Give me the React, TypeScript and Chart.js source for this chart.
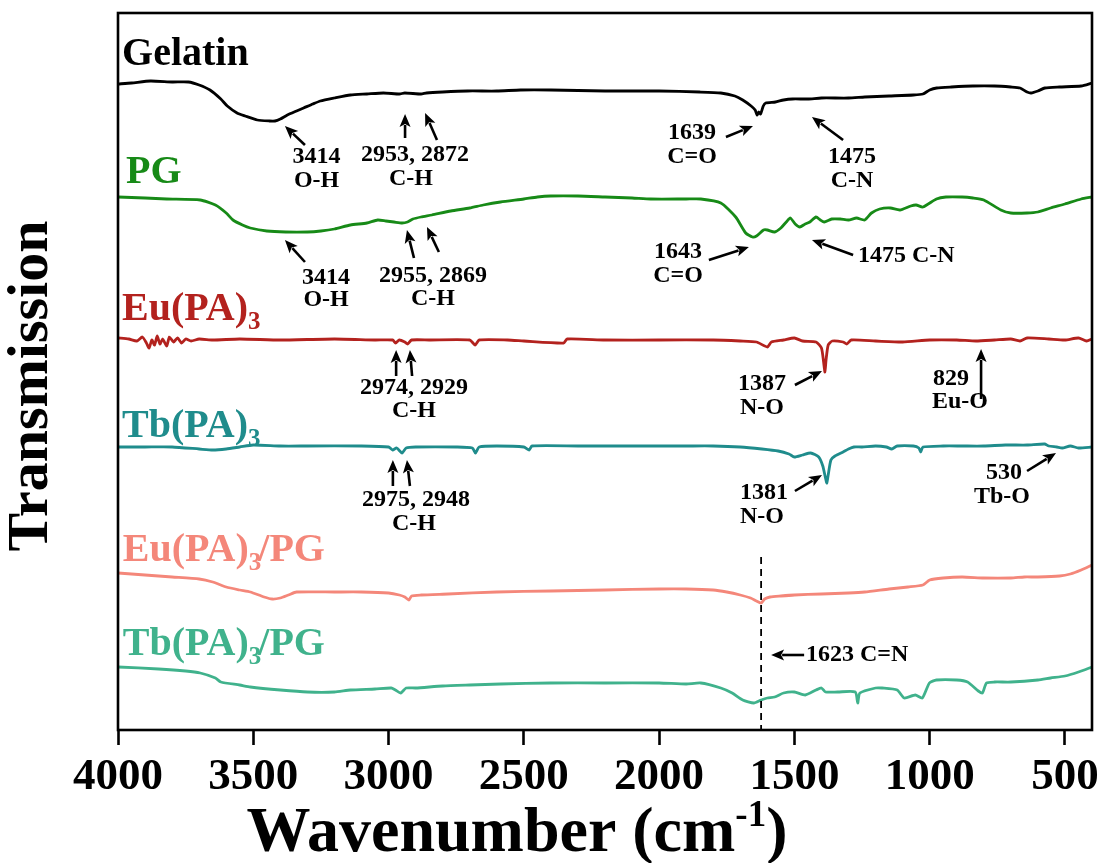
import React, { useEffect, useRef } from "react";
import { Chart, registerables } from "chart.js";
Chart.register(...registerables);

// ---- axis ----
const xTickValues = [4000, 3500, 3000, 2500, 2000, 1500, 1000, 500];
const xMin = 400;
const xMax = 4000;
const yMin = 0;
const yMax = 717;

// ---- spectra (wavenumber, stacked transmission in arbitrary units) ----
const gelatinWn = [4000,3950,3880,3800,3740,3700,3660,3620,3596,3560,3530,3485,3440,3420,3400,3374,3340,3314,3280,3252,3200,3141,3080,3019,2960,2940,2880,2860,2800,2708,2600,2512,2400,2200,2000,1850,1772,1720,1691,1660,1645,1638,1632,1625,1615,1606,1570,1540,1507,1450,1400,1300,1240,1150,1060,1025,1000,974,920,840,760,700,666,640,625,600,574,520,440,400];
const gelatinT = [646,647,649,648,648,645,640,631,624,617,614,610,609,609,611,615,619,622,626,629,632,635,636,637,636,637,636,637,638,639,639,640,640,639,639,638,637,634,630,624,620,615,618,616,624,627,628,630,631,631,632,632,633,634,635,636,640,642,643,644,644,643,642,638,637,639,642,643,644,647];

const pgWn = [4000,3900,3820,3696,3640,3600,3575,3540,3511,3450,3380,3300,3250,3200,3141,3080,3040,3010,2980,2950,2930,2910,2880,2840,2770,2700,2650,2586,2500,2450,2401,2300,2200,2100,2031,1900,1846,1772,1717,1680,1655,1640,1614,1600,1573,1550,1530,1515,1497,1480,1460,1443,1420,1404,1390,1362,1330,1300,1270,1240,1215,1185,1145,1110,1070,1050,1025,975,940,880,840,800,737,700,640,600,553,500,440,400];
const pgT = [533,532,531,530,525,517,510,505,502,499,498,498,499,501,505,507,510,509,508,507,508,511,513,515,519,522,525,528,531,533,534,534,533,532,531,531,531,527,513,497,493,494,500,500,498,502,508,512,506,503,506,508,513,510,508,511,511,510,512,510,517,521,522,520,524,525,523,531,533,533,532,530,520,517,517,518,522,526,531,533];

const euWn = [4000,3960,3930,3910,3895,3885,3875,3865,3855,3845,3835,3820,3810,3795,3780,3765,3750,3730,3700,3650,3550,3400,3200,3050,2985,2974,2960,2940,2929,2915,2850,2700,2680,2665,2560,2500,2353,2340,2200,2000,1800,1700,1640,1600,1585,1540,1500,1470,1420,1400,1392,1387,1383,1375,1360,1320,1306,1290,1200,1100,1000,900,829,760,700,666,640,560,500,450,420,400];
const euT = [392,391,389,393,387,382,390,385,394,386,391,384,393,388,392,387,391,389,391,390,391,390,391,390,390,387,390,388,386,390,390,390,385,390,390,389,387,391,390,390,390,389,388,383,388,390,392,389,388,382,368,358,370,385,389,388,386,390,389,388,390,390,389,390,391,389,392,391,390,392,389,391];

const tbWn = [4000,3900,3800,3700,3650,3600,3550,3500,3400,3300,3100,3000,2985,2970,2950,2935,2900,2750,2690,2679,2665,2600,2500,2480,2470,2300,2100,1900,1800,1700,1620,1560,1520,1500,1470,1440,1410,1395,1385,1380,1375,1365,1350,1320,1300,1280,1250,1200,1160,1140,1120,1060,1040,1033,1025,950,880,800,720,640,575,560,530,510,480,450,400];
const tbT = [283,283,283,281,280,281,283,285,284,284,284,283,280,282,277,282,283,283,282,277,283,284,283,280,284,284,284,284,284,283,281,279,276,273,275,277,273,264,252,247,255,270,274,278,281,283,283,284,283,281,284,284,282,278,283,284,284,284,285,285,286,284,283,282,284,282,283];

const euPgWn = [4000,3900,3800,3700,3650,3600,3550,3511,3460,3430,3400,3370,3340,3200,3100,3000,2960,2940,2925,2915,2880,2780,2600,2401,2200,2000,1900,1800,1750,1700,1662,1640,1623,1610,1590,1550,1500,1400,1300,1240,1150,1080,1025,1000,950,880,800,700,650,600,520,480,440,400];
const euPgT = [157,155,153,151,148,143,140,138,133,131,132,135,138,138,138,137,135,133,130,134,135,136,138,139,140,141,141,140,138,135,132,129,127,131,133,134,135,136,137,138,141,143,145,150,152,153,152,152,153,153,154,156,160,165];

const tbPgWn = [4000,3850,3750,3696,3640,3620,3550,3511,3400,3300,3200,3141,3050,2990,2975,2955,2935,2900,2800,2700,2586,2401,2200,2000,1900,1846,1772,1730,1691,1650,1623,1600,1573,1540,1500,1460,1420,1400,1385,1340,1275,1266,1258,1200,1176,1120,1094,1053,1027,1001,975,900,860,820,805,790,760,700,600,553,500,450,400];
const tbPgT = [63,61,59,57,52,48,45,43,40,38,38,40,41,42,40,37,42,42,44,45,46,47,47,47,46,47,42,37,30,27,30,32,33,37,38,35,40,42,38,38,38,27,37,42,42,40,32,35,32,47,50,50,48,39,37,47,48,48,50,52,54,58,63];

const seriesNames = ["Gelatin", "PG", "Eu(PA)3", "Tb(PA)3", "Eu(PA)3/PG", "Tb(PA)3/PG"];
const seriesColors = ["#000000", "#178a17", "#b3221e", "#1f8c8c", "#f4877a", "#40b28c"];

// ---- annotations (data coordinates: wavenumber, transmission) ----
const noteTexts = ["3414","O-H","2953, 2872","C-H","3414","O-H","2955, 2869","C-H","1639","C=O","1475","C-N","1643","C=O","2974, 2929","C-H","1387","N-O","829","Eu-O","2975, 2948","C-H","1381","N-O","530","Tb-O"];
const noteWn = [3266,3266,2902,2917,3231,3231,2836,2836,1878,1878,1287,1287,1930,1930,2906,2906,1620,1620,921,888,2899,2906,1612,1620,725,733];
const noteT = [573,549,575,551,452,430,454,431,597,573,573,549,478,454,342,319,346,322,351,328,230,206,237,213,257,233];
const leftNoteTexts = ["1475 C-N", "1623 C=N"];
const leftNoteWn = [1265, 1457];
const leftNoteT = [474, 75];
// arrows: tail (wn, T) -> head (wn, T)
const arrowTailWn = [3309,2939,2821,3309,2906,2814,1753,1320,1816,1283,2972,2913,1498,810,2984,2921,1498,640,1464];
const arrowTailT = [585,592,590,468,472,478,593,590,470,475,354,354,345,331,244,244,239,259,75];
const arrowHeadWn = [3383,2939,2865,3383,2932,2858,1653,1435,1668,1435,2972,2921,1398,810,2984,2932,1398,533,1586];
const arrowHeadT = [604,616,617,490,500,503,604,613,483,490,380,380,359,381,270,270,255,277,75];
const dashWn = 1623;
const dashTopT = 173;
// series labels (left/baseline in data coordinates)
const labelWn = [3985, 3970, 3985, 3985, 3982, 3982];
const labelT = [665, 547, 410, 293, 169, 75];

const SERIF = "'Liberation Serif', 'Times New Roman', serif";

function zip(wn: number[], t: number[]) {
  const n = Math.min(wn.length, t.length);
  const out: { x: number; y: number }[] = [];
  for (let i = 0; i < n; i++) out.push({ x: wn[i], y: t[i] });
  return out;
}

function drawArrow(ctx: CanvasRenderingContext2D, x1: number, y1: number, x2: number, y2: number) {
  const ang = Math.atan2(y2 - y1, x2 - x1);
  const hl = 13, hw = 5.5;
  const bx = x2 - hl * Math.cos(ang);
  const by = y2 - hl * Math.sin(ang);
  ctx.lineWidth = 2.6;
  ctx.beginPath();
  ctx.moveTo(x1, y1);
  ctx.lineTo(bx + 2 * Math.cos(ang), by + 2 * Math.sin(ang));
  ctx.stroke();
  ctx.beginPath();
  ctx.moveTo(x2, y2);
  ctx.lineTo(bx + hw * Math.sin(ang), by - hw * Math.cos(ang));
  ctx.lineTo(bx + 3 * Math.cos(ang), by + 3 * Math.sin(ang));
  ctx.lineTo(bx - hw * Math.sin(ang), by + hw * Math.cos(ang));
  ctx.closePath();
  ctx.fill();
}

function drawSeriesLabel(ctx: CanvasRenderingContext2D, name: string, x: number, y: number) {
  // subscript the digit 3
  const parts = name.split(/(3)/).filter((p) => p.length > 0);
  let cx = x;
  for (const p of parts) {
    if (p === "3") {
      ctx.font = `bold 25px ${SERIF}`;
      ctx.fillText(p, cx, y + 9);
      cx += ctx.measureText(p).width - 3;
    } else {
      ctx.font = `bold 40px ${SERIF}`;
      ctx.fillText(p, cx, y);
      cx += ctx.measureText(p).width;
    }
  }
}

const annotationPlugin = {
  id: "ftirAnnotations",
  afterDatasetsDraw(chart: any) {
    const { ctx, chartArea } = chart;
    const xs = chart.scales.x;
    const ys = chart.scales.y;
    const X = (w: number) => xs.getPixelForValue(w);
    const Y = (v: number) => ys.getPixelForValue(v);
    ctx.save();
    // dashed reference line
    ctx.strokeStyle = "#000";
    ctx.lineWidth = 1.8;
    ctx.setLineDash([7, 5]);
    ctx.beginPath();
    ctx.moveTo(X(dashWn), Y(dashTopT));
    ctx.lineTo(X(dashWn), Y(yMin));
    ctx.stroke();
    ctx.setLineDash([]);
    // arrows
    ctx.fillStyle = "#000";
    for (let i = 0; i < arrowTailWn.length; i++) {
      drawArrow(ctx, X(arrowTailWn[i]), Y(arrowTailT[i]), X(arrowHeadWn[i]), Y(arrowHeadT[i]));
    }
    // annotation text
    ctx.font = `bold 24px ${SERIF}`;
    ctx.textBaseline = "middle";
    ctx.textAlign = "center";
    for (let i = 0; i < noteTexts.length; i++) {
      ctx.fillText(noteTexts[i], X(noteWn[i]), Y(noteT[i]));
    }
    ctx.textAlign = "left";
    for (let i = 0; i < leftNoteTexts.length; i++) {
      ctx.fillText(leftNoteTexts[i], X(leftNoteWn[i]), Y(leftNoteT[i]));
    }
    // series labels
    ctx.textBaseline = "alphabetic";
    ctx.textAlign = "left";
    for (let i = 0; i < seriesNames.length; i++) {
      ctx.fillStyle = seriesColors[i];
      drawSeriesLabel(ctx, seriesNames[i], X(labelWn[i]), Y(labelT[i]));
    }
    // frame
    ctx.strokeStyle = "#000";
    ctx.lineWidth = 2.6;
    ctx.strokeRect(chartArea.left, chartArea.top, chartArea.right - chartArea.left, chartArea.bottom - chartArea.top);
    // y title
    ctx.fillStyle = "#000";
    ctx.save();
    ctx.translate(32, 386);
    ctx.rotate(-Math.PI / 2);
    ctx.font = `bold 58px ${SERIF}`;
    ctx.textAlign = "center";
    ctx.textBaseline = "middle";
    ctx.fillText("Transmission", 0, 0);
    ctx.restore();
    // x title with superscript
    const mainFont = `bold 64px ${SERIF}`;
    const supFont = `bold 37px ${SERIF}`;
    ctx.textAlign = "left";
    ctx.textBaseline = "alphabetic";
    ctx.font = mainFont;
    const a = "Wavenumber (cm";
    const c = ")";
    const wa = ctx.measureText(a).width;
    const wc = ctx.measureText(c).width;
    ctx.font = supFont;
    const b = "-1";
    const wb = ctx.measureText(b).width;
    const total = wa + wb + wc;
    const cx = 517 - total / 2;
    const base = 851;
    ctx.font = mainFont;
    ctx.fillText(a, cx, base);
    ctx.font = supFont;
    ctx.fillText(b, cx + wa, base - 25);
    ctx.font = mainFont;
    ctx.fillText(c, cx + wa + wb, base);
    ctx.restore();
  },
};

export default function App() {
  const ref = useRef<HTMLCanvasElement | null>(null);
  useEffect(() => {
    if (!ref.current) return;
    const series = [
      zip(gelatinWn, gelatinT),
      zip(pgWn, pgT),
      zip(euWn, euT),
      zip(tbWn, tbT),
      zip(euPgWn, euPgT),
      zip(tbPgWn, tbPgT),
    ];
    const chart = new Chart(ref.current, {
      type: "scatter",
      data: {
        datasets: series.map((d, i) => ({
          label: seriesNames[i],
          data: d,
          showLine: true,
          borderColor: seriesColors[i],
          backgroundColor: seriesColors[i],
          borderWidth: 2.8,
          pointRadius: 0,
          tension: 0.2,
        })),
      },
      options: {
        responsive: false,
        animation: false,
        layout: { padding: { left: 118, top: 13, right: 13, bottom: 0 } },
        plugins: { legend: { display: false }, tooltip: { enabled: false } },
        scales: {
          x: {
            type: "linear",
            reverse: true,
            min: xMin,
            max: xMax,
            afterBuildTicks: (s: any) => {
              s.ticks = xTickValues.map((v) => ({ value: v }));
            },
            afterFit: (s: any) => {
              s.height = 133;
            },
            border: { display: false },
            grid: {
              display: true,
              drawOnChartArea: false,
              drawTicks: true,
              tickLength: 15,
              tickWidth: 2.6,
              tickColor: "#000",
              color: "#000",
            },
            ticks: {
              color: "#000",
              padding: 5,
              maxRotation: 0,
              autoSkip: false,
              font: { family: SERIF, size: 45, weight: "bold" },
              callback: (v: any) => String(v),
            },
          },
          y: { display: false, min: yMin, max: yMax },
        },
      },
      plugins: [annotationPlugin],
    } as any);
    return () => chart.destroy();
  }, []);
  return (
    <div style={{ position: "fixed", left: 0, top: 0, width: 1105, height: 863, background: "#fff" }}>
      <canvas ref={ref} width={1105} height={863} style={{ width: 1105, height: 863, display: "block" }} />
    </div>
  );
}
